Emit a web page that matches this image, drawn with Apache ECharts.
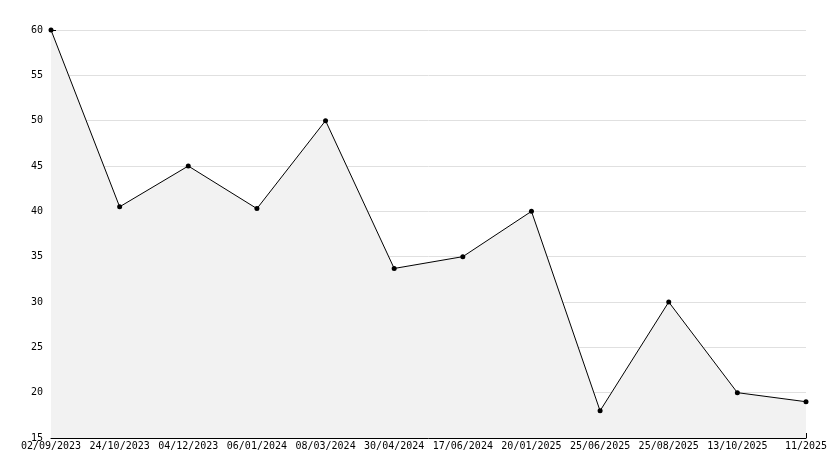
<!DOCTYPE html>
<html><head><meta charset="utf-8">
<script src="https://cdn.jsdelivr.net/npm/echarts@6/dist/echarts.min.js"></script>
<style>html,body{margin:0;background:#fff}#c{width:834px;height:468px}</style>
</head><body><div id="c"></div>
<script>
var dates = ["02/09/2023","24/10/2023","04/12/2023","06/01/2024","08/03/2024","30/04/2024","17/06/2024","20/01/2025","25/06/2025","25/08/2025","13/10/2025","11/2025"];
var values = [60, 40.5, 45, 40.3, 50, 33.7, 35, 40, 18, 30, 20, 19];

var chart = echarts.init(document.getElementById("c"));
var font = {fontFamily: "DejaVu Sans Mono", fontSize: 10, color: "#000"};
chart.setOption({
  animation: false,
  grid: {left: 51, right: 28, top: 30, bottom: 30},
  xAxis: {
    type: "category", boundaryGap: false, data: dates,
    axisLine: {lineStyle: {color: "#000"}},
    axisTick: {inside: true, length: 5, lineStyle: {color: "#000"}},
    axisLabel: Object.assign({margin: 3, interval: 0}, font),
    splitLine: {show: false}
  },
  yAxis: {
    type: "value", min: 15, max: 60, interval: 5,
    axisLine: {show: true, lineStyle: {color: "#000"}},
    axisTick: {show: true, inside: true, length: 5, lineStyle: {color: "#000"}},
    minorTick: {show: true, splitNumber: 5, length: 3, lineStyle: {color: "#000"}},
    axisLabel: Object.assign({margin: 8}, font),
    splitLine: {lineStyle: {color: "#e0e0e0"}}
  },
  series: [{
    type: "line", data: values,
    symbol: "circle", symbolSize: 5,
    itemStyle: {color: "#000"},
    lineStyle: {color: "#000", width: 1},
    areaStyle: {color: "#f2f2f2", opacity: 1}
  }]
});
</script></body></html>
